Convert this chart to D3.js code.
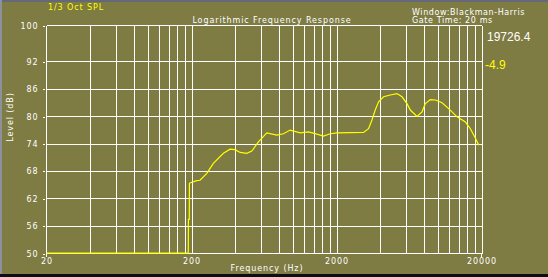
<!DOCTYPE html>
<html>
<head>
<meta charset="UTF-8">
<title>Logarithmic Frequency Response</title>
<style>
  body { margin: 0; background: #7e7b43; }
  svg { display: block; }
  .lbl { font: 8px "DejaVu Sans", sans-serif; fill: #fff; letter-spacing: 0.9px; }
  .grid line { stroke: #fff; stroke-width: 1; shape-rendering: crispEdges; }
</style>
</head>
<body>
<svg width="548" height="277"></svg>
<script src="https://d3js.org/d3.v7.min.js"></script>
<script>
// 1/3 octave SPL response
const freq = [20, 190, 190.5, 193, 193.5, 195, 217, 229, 255, 283, 332, 369, 399, 433, 481, 521, 579, 661,
  774, 861, 958, 1122, 1281, 1464, 1626, 1810, 2013, 3074, 3326, 3512, 3700, 3900, 4224, 4698, 5224,
  5658, 6126, 6458, 7180, 7778, 8198, 8872, 9606, 10690, 11870, 13570, 15480, 16760, 18160, 19130];
const level = [50, 50, 57.4, 57.4, 65.3, 65.4, 65.9, 66.0, 67.5, 69.7, 71.9, 72.8, 72.7, 72.1, 71.9, 72.4, 74.4, 76.4,
  75.9, 76.2, 77.0, 76.4, 76.6, 76.1, 75.7, 76.2, 76.4, 76.5, 77.3, 79.2, 81.4, 83.2, 84.3, 84.7, 85.0,
  84.3, 82.8, 81.4, 80.0, 81.0, 82.8, 83.7, 83.6, 83.0, 81.7, 79.9, 78.8, 77.3, 75.2, 73.7];
const yTicks = [50, 56, 62, 68, 74, 80, 86, 92, 100];
const xTicks = [20, 200, 2000, 20000];
const xGrid = [40, 60, 80, 100, 120, 140, 160, 180, 200, 400, 600, 800, 1000, 1200, 1400, 1600, 1800, 2000,
  4000, 6000, 8000, 10000, 12000, 14000, 16000, 18000, 20000];

const svg = d3.select("svg");
const L = 46.5, R = 481.5, T = 25.5, B = 253.5;

// frame strips
svg.append("rect").attr("x", 0).attr("y", 0).attr("width", 548).attr("height", 2).attr("fill", "#646879");
svg.append("rect").attr("x", 0).attr("y", 0).attr("width", 2).attr("height", 277).attr("fill", "#8d919b");
svg.append("rect").attr("x", 0).attr("y", 274).attr("width", 548).attr("height", 3).attr("fill", "#0d0d16");

const x = d3.scaleLog().domain([20, 20000]).range([L, R]);
const y = d3.scaleLinear().domain([50, 100]).range([B, T]);

const grid = svg.append("g").attr("class", "grid");
grid.selectAll(".v").data(xGrid).join("line")
  .attr("x1", d => Math.round(x(d)) + 0.5).attr("x2", d => Math.round(x(d)) + 0.5)
  .attr("y1", T).attr("y2", B);
grid.selectAll(".h").data(yTicks).join("line")
  .attr("x1", L).attr("x2", R)
  .attr("y1", d => Math.round(y(d) - 0.5) + 0.5).attr("y2", d => Math.round(y(d) - 0.5) + 0.5);
grid.append("line").attr("x1", L).attr("x2", L).attr("y1", T).attr("y2", B + 3);
grid.append("line").attr("x1", R).attr("x2", R).attr("y1", B).attr("y2", B + 3);

// y axis: short dashes set off from the frame
const yAxis = svg.append("g").attr("transform", `translate(${L - 2},0)`)
  .call(d3.axisLeft(y).tickValues(yTicks).tickSize(2).tickPadding(4));
yAxis.select(".domain").remove();
yAxis.selectAll("line").attr("stroke", "#fff").attr("shape-rendering", "crispEdges");
yAxis.selectAll("text").attr("class", "lbl").attr("font-size", null).attr("font-family", null).attr("fill", null);

const xAxis = svg.append("g").attr("transform", `translate(0,${B})`)
  .call(d3.axisBottom(x).tickValues(xTicks).tickSize(0).tickPadding(5).tickFormat(d3.format("d")));
xAxis.select(".domain").remove();
xAxis.selectAll("text").attr("class", "lbl").attr("font-size", null).attr("font-family", null).attr("fill", null);

// response curve
svg.append("path")
  .datum(freq.map((f, i) => [f, level[i]]))
  .attr("fill", "none").attr("stroke", "#ffff00").attr("stroke-width", 1.2)
  .attr("d", d3.line().x(d => x(d[0])).y(d => y(d[1]) - 0.3));

// texts
svg.append("text").attr("class", "lbl").attr("x", 272).attr("y", 23).attr("text-anchor", "middle")
  .text("Logarithmic Frequency Response");
svg.append("text").attr("class", "lbl").attr("x", 48).attr("y", 10).style("fill", "#ffff00")
  .text("1/3 Oct SPL");
svg.append("text").attr("class", "lbl").attr("x", 412).attr("y", 15).style("letter-spacing", "0.6px")
  .text("Window:Blackman-Harris");
svg.append("text").attr("class", "lbl").attr("x", 412).attr("y", 23).style("letter-spacing", "0.6px")
  .text("Gate Time: 20 ms");
svg.append("text").attr("class", "lbl").attr("x", 267).attr("y", 271).attr("text-anchor", "middle")
  .text("Frequency (Hz)");
svg.append("text").attr("class", "lbl").attr("transform", "translate(13,117) rotate(-90)")
  .attr("text-anchor", "middle").text("Level (dB)");

svg.append("text").attr("x", 487).attr("y", 41)
  .style("font", "12px 'Liberation Sans', Arial, sans-serif").attr("fill", "#fff").text("19726.4");
svg.append("text").attr("x", 485).attr("y", 69)
  .style("font", "12px 'Liberation Sans', Arial, sans-serif").attr("fill", "#ffff00").text("-4.9");
</script>
</body>
</html>
